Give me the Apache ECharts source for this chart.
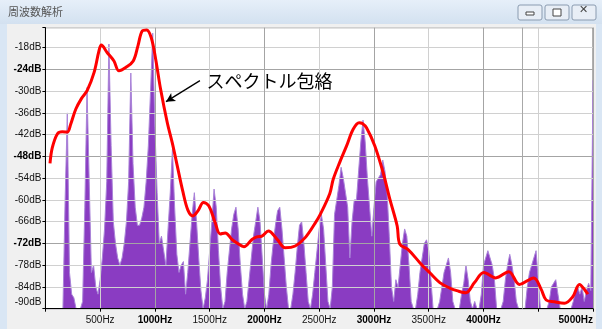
<!DOCTYPE html>
<html>
<head>
<meta charset="utf-8">
<script src="https://cdn.jsdelivr.net/npm/echarts@6/dist/echarts.min.js"></script>
<style>
html,body{margin:0;padding:0;background:#d9e6f4;}
#c{width:602px;height:329px;}
</style>
</head>
<body>
<div id="c"></div>
<script>
// ---- data ----
const windowTitle = '周波数解析';
const envelopeLabel = 'スペクトル包絡';
const binStepHz = 20; // spectrum bins every 20 Hz, 0..5000 Hz
const spectrumDb = [
 -90,-90,-90,-90,-90,-90,-90,-90,-90,-60, -36,-80,-86,-87,-90,-90,-90,-88,-62,-29,
 -55,-80,-78,-84,-86,-82,-76,-68,-55,-17, -45,-66,-72,-76,-78,-76,-72,-66,-55,-25,
 -50,-62,-67,-67,-65,-62,-55,-45,-30,-14, -40,-58,-72,-70,-74,-78,-68,-58,-46,-62,
 -75,-80,-78,-77,-86,-80,-72,-64,-58,-66, -76,-85,-90,-87,-82,-74,-66,-57,-62,-74,
 -84,-90,-88,-80,-74,-68,-64,-62,-68,-78, -86,-90,-88,-82,-76,-70,-66,-62,-66,-76,
 -86,-90,-86,-78,-72,-67,-63,-62,-68,-76, -84,-90,-90,-86,-80,-73,-67,-66,-72,-80,
 -88,-90,-86,-80,-74,-68,-64,-68,-78,-88, -90,-84,-64,-60,-56,-51,-54,-58,-62,-76,
 -66,-60,-60,-52,-44,-38,-44,-54,-62,-70, -62,-55,-54,-53,-49,-52,-58,-70,-84,-88,
 -82,-84,-78,-72,-68,-70,-78,-88,-90,-90, -86,-80,-76,-72,-71,-74,-82,-90,-90,-90,
 -88,-84,-80,-78,-76,-80,-88,-90,-90,-90, -86,-83,-78,-82,-88,-90,-88,-90,-90,-86,
 -78,-76,-74,-76,-78,-82,-90,-90,-90,-88, -82,-78,-75,-78,-82,-88,-90,-90,-90,-90,
 -84,-80,-78,-76,-74,-82,-90,-90,-90,-90, -88,-84,-83,-82,-86,-90,-90,-90,-90,-90,
 -90,-88,-85,-84,-86,-84,-88,-85,-83,-85, -27
];
const envelopeHz = [42,63,109,154,200,231,277,330,382,444,489,510,565,626,672,733,802,845,884,925,966,1007,1052,1113,1158,1204,1256,1301,1347,1393,1443,1493,1548,1596,1642,1703,1749,1813,1886,1931,1977,2036,2114,2189,2281,2372,2463,2506,2597,2628,2689,2750,2810,2865,2894,2932,3008,3084,3145,3212,3236,3312,3419,3510,3601,3692,3765,3839,3918,4003,4112,4231,4329,4459,4526,4572,4648,4739,4815,4876,4937,4952];
const envelopeDb = [-49.9,-45.6,-41.8,-41.2,-41.3,-39.1,-35.0,-32.0,-29.8,-24.9,-18.9,-17.3,-19.4,-21.7,-24.4,-23.5,-21.7,-17.5,-13.4,-13.1,-15.2,-21.2,-29.5,-38.7,-44.2,-50.6,-57.8,-62.8,-64.4,-63.0,-60.7,-61.7,-66.1,-69.4,-69.1,-70.9,-71.9,-72.9,-70.9,-70.2,-70.0,-68.6,-70.8,-73.2,-72.7,-70.4,-66.4,-64.2,-58.2,-54.3,-49.5,-45.1,-40.5,-38.7,-38.9,-40.1,-45.1,-52.5,-59.8,-67.2,-72.2,-73.7,-77.3,-80.1,-82.8,-84.3,-85.1,-85.6,-82.8,-80.0,-81.5,-79.8,-83.3,-81.5,-84.6,-87.6,-88.1,-88.5,-86.7,-83.3,-85.3,-86.0];
const yTicksDb = [-90,-84,-78,-72,-66,-60,-54,-48,-42,-36,-30,-24,-18];
const majorDb = [-72,-48,-24];
const xTicksHz = [500,1000,1500,2000,2500,3000,3500,4000,5000];
const majorHz = [1000,2000,3000,4000,5000];
const cursorHz = 4354;
const arrowFrom = [1411,-27.1], arrowTo = [1101,-32.9];
const labelAt = [1470,-27.3];

// ---- chart ----
const chart = echarts.init(document.getElementById('c'), null, {renderer:'canvas'});
const specData = spectrumDb.map((v,i)=>[i*binStepHz, v]);
const envData = envelopeHz.map((f,i)=>[f, envelopeDb[i]]);
const FONT = '"Liberation Sans", Arial, sans-serif';

chart.setOption({
  backgroundColor: '#d9e6f4',
  animation: false,
  graphic: [
    {type:'rect', shape:{x:0,y:0,width:602,height:24}, style:{fill:new echarts.graphic.LinearGradient(0,0,0,1,[{offset:0,color:'#e6eff9'},{offset:1,color:'#d3e1f0'}])}, z:-10},
    {type:'rect', shape:{x:7,y:24,width:589,height:305}, style:{fill:'#f0f0f0'}, z:-10},
    {type:'text', left:8, top:6, style:{text:windowTitle, font:'11px "Noto Sans CJK JP"', fill:'#555'}, z:-5},
    {type:'rect', shape:{x:518,y:5,width:24,height:15,r:2}, style:{fill:'#e8eef6',stroke:'#8a9bb0',lineWidth:1}, z:-5},
    {type:'rect', shape:{x:545,y:5,width:24,height:15,r:2}, style:{fill:'#e8eef6',stroke:'#8a9bb0',lineWidth:1}, z:-5},
    {type:'rect', shape:{x:572,y:5,width:24,height:15,r:2}, style:{fill:'#e8eef6',stroke:'#8a9bb0',lineWidth:1}, z:-5},
    {type:'rect', shape:{x:526,y:12,width:8,height:3}, style:{fill:'#fff',stroke:'#444',lineWidth:1}, z:-4},
    {type:'rect', shape:{x:553,y:9,width:8,height:7}, style:{fill:'#fff',stroke:'#444',lineWidth:1}, z:-4},
    {type:'text', x:579, y:5, style:{text:'✕', font:'bold 11px "DejaVu Sans"', fill:'#444'}, z:-4}
  ],
  grid: {left:45.4, right:9, top:27.7, bottom:20.3, show:true, backgroundColor:'#ffffff', borderColor:'#606060', borderWidth:1},
  xAxis: {
    type:'value', min:0, max:5000, interval:500, z:3,
    axisLine:{show:true, onZero:false, lineStyle:{color:'#000', width:1}},
    axisTick:{show:true, length:3, lineStyle:{color:'#000'}},
    axisLabel:{
      margin:7, fontSize:10, fontFamily:FONT, color:'#111', alignMaxLabel:'right',
      formatter: v => {
        if (xTicksHz.indexOf(v) < 0) return '';
        return majorHz.indexOf(v) >= 0 ? '{b|' + v + 'Hz}' : v + 'Hz';
      },
      rich:{b:{fontWeight:'bold', fontSize:10, fontFamily:FONT, color:'#000'}}
    },
    splitLine:{show:true, lineStyle:{color:['#a4a4a4','#d0d0d0'], width:1}}
  },
  yAxis: {
    type:'value', min:-90, max:-12.5, interval:6, z:3,
    axisLine:{show:true, onZero:false, lineStyle:{color:'#000', width:1}},
    axisTick:{show:true, length:3, lineStyle:{color:'#000'}},
    axisLabel:{
      margin:4, fontSize:10, fontFamily:FONT, color:'#111',
      formatter: v => {
        if (yTicksDb.indexOf(v) < 0) return '';
        if (v === -90) return '{last|' + v + 'dB}';
        return majorDb.indexOf(v) >= 0 ? '{b|' + v + 'dB}' : v + 'dB';
      },
      rich:{
        b:{fontWeight:'bold', fontSize:10, fontFamily:FONT, color:'#000'},
        last:{fontSize:10, fontFamily:FONT, color:'#111', padding:[0,0,12,0]}
      }
    },
    splitLine:{show:true, lineStyle:{color:['#d0d0d0','#d0d0d0','#d0d0d0','#a4a4a4'], width:1}}
  },
  series: [
    {
      type:'line', data:specData, symbol:'none', z:1, silent:true,
      lineStyle:{color:'#a983d8', width:1},
      areaStyle:{color:'#8a3cc2', opacity:1, origin:'start'},
      markLine:{silent:true, symbol:'none', label:{show:false},
        lineStyle:{color:'#a8a8a8', width:1, type:'solid'},
        data:[{xAxis:cursorHz}]}
    },
    {
      type:'line', data:envData, symbol:'none', smooth:0.35, z:5, silent:true,
      lineStyle:{color:'#ff0000', width:3},
      markLine:{silent:true, symbol:['none','arrow'], symbolSize:[7,9], label:{show:false},
        lineStyle:{color:'#000', width:1.3, type:'solid'},
        data:[[{coord:arrowFrom},{coord:arrowTo}]]},
      markPoint:{silent:true, symbol:'circle', symbolSize:0,
        label:{show:true, position:'right', distance:0, formatter:envelopeLabel, color:'#000', fontSize:18, fontFamily:'"Noto Sans CJK JP"'},
        data:[{coord:labelAt}]}
    }
  ]
});
</script>
</body>
</html>
